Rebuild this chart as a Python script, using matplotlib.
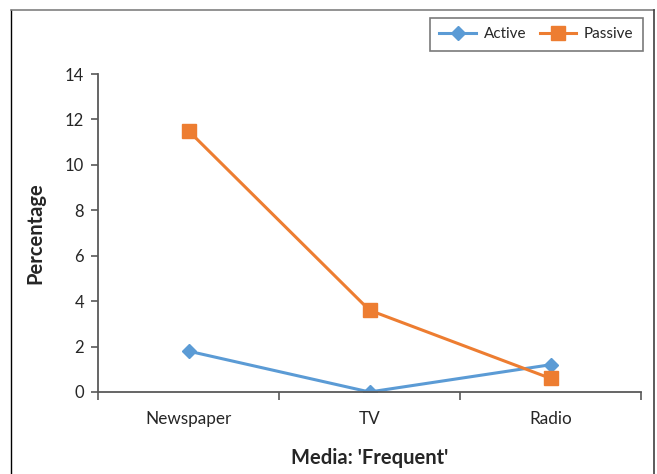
import matplotlib.pyplot as plt
from matplotlib.lines import Line2D

# survey shares by media channel
media = ["Newspaper", "TV", "Radio"]
active = [1.8, 0.0, 1.2]
passive = [11.5, 3.6, 0.6]
y_ticks = [0, 2, 4, 6, 8, 10, 12, 14]

plt.rcParams["font.family"] = ["Lato", "DejaVu Sans"]
axis_color = "#595959"
text_color = "#262626"

fig = plt.figure(figsize=(6.57, 4.74), dpi=100)
ax = fig.add_axes([98 / 657, 1 - 392 / 474, 543 / 657, 318 / 474])

x = list(range(len(media)))
ax.plot(x, active, color="#5B9BD5", linewidth=2.2, marker="D",
        markersize=7.5, label="Active")
ax.plot(x, passive, color="#ED7D31", linewidth=2.2, marker="s",
        markersize=10, label="Passive")

ax.set_xlim(-0.5, len(media) - 0.5)
ax.set_ylim(0, 14)
ax.set_yticks(y_ticks)
ax.set_xticks(x)
ax.set_xticklabels(media)
# category boundary ticks on the x axis
ax.set_xticks([i - 0.5 for i in range(len(media) + 1)], minor=True)
ax.tick_params(axis="x", which="major", length=0, pad=14,
               labelsize=12.3, labelcolor=text_color)
ax.tick_params(axis="x", which="minor", length=6, width=1.2,
               color=axis_color, direction="out")
ax.tick_params(axis="y", length=5, width=1.2, color=axis_color,
               labelsize=12, labelcolor=text_color, pad=5)

for side in ["top", "right"]:
    ax.spines[side].set_visible(False)
for side in ["left", "bottom"]:
    ax.spines[side].set_color(axis_color)
    ax.spines[side].set_linewidth(1.3)

ax.set_xlabel("Media: 'Frequent'", fontsize=14.5, fontweight="bold",
              color=text_color, labelpad=15)
ax.set_ylabel("Percentage", fontsize=14.5, fontweight="bold",
              color=text_color, labelpad=14)

leg = fig.legend(loc="upper right", bbox_to_anchor=(643 / 657, 1 - 18 / 474),
                 ncol=2, fontsize=11, frameon=True, fancybox=False,
                 borderaxespad=0, handlelength=2.4, columnspacing=0.9,
                 borderpad=0.62, handletextpad=0.5)
leg.get_frame().set_edgecolor(axis_color)
leg.get_frame().set_linewidth(1.2)
for t in leg.get_texts():
    t.set_color(text_color)

# outer frame around the chart
fig.add_artist(Line2D([11 / 657, 11 / 657], [0, 1 - 10 / 474],
                      transform=fig.transFigure, color="black", linewidth=1))
fig.add_artist(Line2D([11 / 657, 654 / 657], [1 - 10 / 474, 1 - 10 / 474],
                      transform=fig.transFigure, color="#808080", linewidth=1.2))
fig.add_artist(Line2D([654 / 657, 654 / 657], [0, 1 - 10 / 474],
                      transform=fig.transFigure, color="#404040", linewidth=1.2))

fig.savefig("out.png", dpi=100)
